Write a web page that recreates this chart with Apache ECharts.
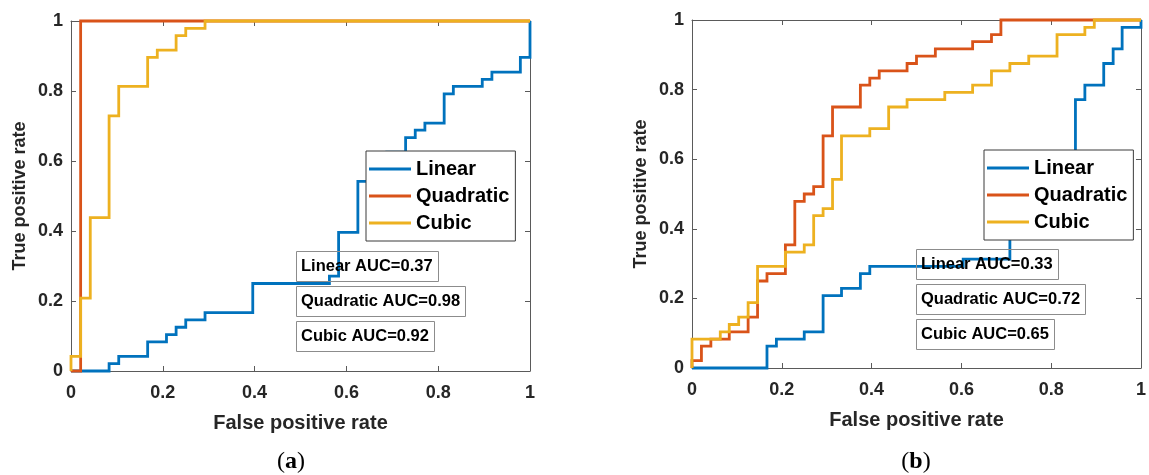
<!DOCTYPE html>
<html>
<head>
<meta charset="utf-8">
<script src="https://cdn.jsdelivr.net/npm/echarts@6/dist/echarts.min.js"></script>
<style>html,body{margin:0;padding:0;background:#fff;}#c{width:1149px;height:475px;}</style>
</head>
<body>
<div id="c"></div>
<script>
// ---- data ----
const seriesNames = ['Linear', 'Quadratic', 'Cubic'];
const axisTicks = [0, 0.2, 0.4, 0.6, 0.8, 1];
const xTitle = 'False positive rate';
const yTitle = 'True positive rate';
const panelLabels = ['a', 'b'];

// panel (a) ROC vertices [FPR, TPR]
const aLinear = [[0,0],[0.083,0],[0.083,0.021],[0.104,0.021],[0.104,0.042],[0.167,0.042],[0.167,0.083],[0.208,0.083],[0.208,0.104],[0.229,0.104],[0.229,0.125],[0.25,0.125],[0.25,0.146],[0.292,0.146],[0.292,0.167],[0.396,0.167],[0.396,0.25],[0.563,0.25],[0.563,0.271],[0.583,0.271],[0.583,0.396],[0.625,0.396],[0.625,0.542],[0.646,0.542],[0.646,0.583],[0.688,0.583],[0.688,0.625],[0.729,0.625],[0.729,0.667],[0.75,0.667],[0.75,0.688],[0.771,0.688],[0.771,0.708],[0.813,0.708],[0.813,0.792],[0.833,0.792],[0.833,0.813],[0.896,0.813],[0.896,0.833],[0.917,0.833],[0.917,0.854],[0.979,0.854],[0.979,0.896],[1,0.896],[1,1]];
const aQuadratic = [[0,0],[0.021,0],[0.021,1],[1,1]];
const aCubic = [[0,0],[0,0.042],[0.021,0.042],[0.021,0.208],[0.042,0.208],[0.042,0.438],[0.083,0.438],[0.083,0.729],[0.104,0.729],[0.104,0.813],[0.167,0.813],[0.167,0.896],[0.188,0.896],[0.188,0.917],[0.229,0.917],[0.229,0.958],[0.25,0.958],[0.25,0.979],[0.292,0.979],[0.292,1],[1,1]];
const aAUC = [0.37, 0.98, 0.92];

// panel (b)
const bLinear = [[0,0],[0.167,0],[0.167,0.063],[0.188,0.063],[0.188,0.083],[0.25,0.083],[0.25,0.104],[0.292,0.104],[0.292,0.208],[0.333,0.208],[0.333,0.229],[0.375,0.229],[0.375,0.271],[0.396,0.271],[0.396,0.292],[0.604,0.292],[0.604,0.313],[0.708,0.313],[0.708,0.375],[0.792,0.375],[0.792,0.396],[0.854,0.396],[0.854,0.771],[0.875,0.771],[0.875,0.813],[0.917,0.813],[0.917,0.875],[0.938,0.875],[0.938,0.917],[0.958,0.917],[0.958,0.979],[1,0.979],[1,1]];
const bQuadratic = [[0,0],[0,0.021],[0.021,0.021],[0.021,0.063],[0.042,0.063],[0.042,0.083],[0.083,0.083],[0.083,0.104],[0.125,0.104],[0.125,0.146],[0.146,0.146],[0.146,0.25],[0.167,0.25],[0.167,0.271],[0.208,0.271],[0.208,0.354],[0.229,0.354],[0.229,0.479],[0.25,0.479],[0.25,0.5],[0.271,0.5],[0.271,0.521],[0.292,0.521],[0.292,0.667],[0.313,0.667],[0.313,0.75],[0.375,0.75],[0.375,0.813],[0.396,0.813],[0.396,0.833],[0.417,0.833],[0.417,0.854],[0.479,0.854],[0.479,0.875],[0.5,0.875],[0.5,0.896],[0.542,0.896],[0.542,0.917],[0.625,0.917],[0.625,0.938],[0.667,0.938],[0.667,0.958],[0.688,0.958],[0.688,1],[1,1]];
const bCubic = [[0,0],[0,0.083],[0.063,0.083],[0.063,0.104],[0.083,0.104],[0.083,0.125],[0.104,0.125],[0.104,0.146],[0.125,0.146],[0.125,0.188],[0.146,0.188],[0.146,0.292],[0.208,0.292],[0.208,0.333],[0.25,0.333],[0.25,0.354],[0.271,0.354],[0.271,0.438],[0.292,0.438],[0.292,0.458],[0.313,0.458],[0.313,0.542],[0.333,0.542],[0.333,0.667],[0.396,0.667],[0.396,0.688],[0.438,0.688],[0.438,0.75],[0.479,0.75],[0.479,0.771],[0.563,0.771],[0.563,0.792],[0.625,0.792],[0.625,0.813],[0.667,0.813],[0.667,0.854],[0.708,0.854],[0.708,0.875],[0.75,0.875],[0.75,0.896],[0.813,0.896],[0.813,0.958],[0.875,0.958],[0.875,0.979],[0.896,0.979],[0.896,1],[1,1]];
const bAUC = [0.33, 0.72, 0.65];

// ---- style ----
const FONT = '"Liberation Sans", Arial, Helvetica, sans-serif';
const colors = ['#0072BD', '#D95319', '#EDB120'];
const axisColor = '#5a5a5a';
const textColor = '#262626';

const grids = [
  {left: 71, top: 21, width: 459, height: 350},
  {left: 692, top: 20, width: 456, height: 348}
];
const tickMin = axisTicks[0], tickMax = axisTicks[axisTicks.length - 1], tickStep = axisTicks[1] - axisTicks[0];
const fmt = v => String(+v.toFixed(1));

function mkAxis(dim, gi, pos, main) {
  const a = {
    type: 'value', gridIndex: gi, position: pos, min: tickMin, max: tickMax, interval: tickStep,
    axisLine: {show: true, onZero: false, lineStyle: {color: axisColor, width: 1}},
    axisTick: {show: true, inside: true, length: 5, lineStyle: {color: axisColor}},
    splitLine: {show: false},
    axisLabel: {show: main, formatter: fmt, color: textColor, fontFamily: FONT, fontWeight: 'bold', fontSize: 18,
      margin: dim === 'x' ? 13 : 8}
  };
  if (main) {
    a.name = dim === 'x' ? xTitle : yTitle;
    a.nameLocation = 'middle';
    a.nameGap = 42;
    a.nameTextStyle = {color: textColor, fontFamily: FONT, fontWeight: 'bold', fontSize: dim === 'x' ? 20 : 18};
  }
  return a;
}

const xAxis = [mkAxis('x', 0, 'bottom', true), mkAxis('x', 1, 'bottom', true), mkAxis('x', 0, 'top', false), mkAxis('x', 1, 'top', false)];
const yAxis = [mkAxis('y', 0, 'left', true), mkAxis('y', 1, 'left', true), mkAxis('y', 0, 'right', false), mkAxis('y', 1, 'right', false)];

const panels = [[aLinear, aQuadratic, aCubic], [bLinear, bQuadratic, bCubic]];
const series = [];
panels.forEach((p, gi) => {
  p.forEach((d, si) => {
    series.push({
      type: 'line', name: seriesNames[si], xAxisIndex: gi, yAxisIndex: gi, data: d,
      symbol: 'none', showSymbol: false, clip: false,
      lineStyle: {color: colors[si], width: 2.8, join: 'miter'}, itemStyle: {color: colors[si]},
      z: 2 + si
    });
  });
});

function mkLegend(left, top) {
  return {
    orient: 'vertical', left: left, top: top, data: seriesNames, selectedMode: false,
    icon: 'rect', itemWidth: 42, itemHeight: 3, itemGap: 7,
    padding: [8, 6, 8, 3],
    borderColor: '#3a3a3a', borderWidth: 1, backgroundColor: '#ffffff',
    textStyle: {color: '#000', fontFamily: FONT, fontWeight: 'bold', fontSize: 20, lineHeight: 20}
  };
}
const legend = [mkLegend(366, 151), mkLegend(984, 150)];

function mkAnno(left, top, text) {
  return {
    text: text, left: left, top: top, padding: [7, 6, 7, 5],
    borderColor: '#8c8c8c', borderWidth: 1,
    textStyle: {color: '#000', fontFamily: FONT, fontWeight: 'bold', fontSize: 16.5}
  };
}
const title = [];
const annoTopsA = [251, 286, 321], annoTopsB = [249, 284, 319];
seriesNames.forEach((n, i) => {
  title.push(mkAnno(296, annoTopsA[i], n + ' AUC=' + aAUC[i].toFixed(2)));
  title.push(mkAnno(916, annoTopsB[i], n + ' AUC=' + bAUC[i].toFixed(2)));
});

const serif = '"Liberation Serif", "DejaVu Serif", serif';
const graphic = panelLabels.map((l, i) => ({
  type: 'text', x: i === 0 ? 291 : 916, y: 462,
  style: {
    text: '{p|(}{b|' + l + '}{p|)}',
    align: 'center', verticalAlign: 'middle',
    rich: {
      p: {fontFamily: serif, fontSize: 24, fill: '#000', color: '#000'},
      b: {fontFamily: serif, fontSize: 24, fontWeight: 'bold', fill: '#000', color: '#000'}
    }
  }
}));

const chart = echarts.init(document.getElementById('c'), null, {renderer: 'canvas'});
chart.setOption({
  animation: false,
  backgroundColor: '#ffffff',
  grid: grids,
  xAxis: xAxis,
  yAxis: yAxis,
  legend: legend,
  title: title,
  graphic: graphic,
  series: series
});
</script>
</body>
</html>
